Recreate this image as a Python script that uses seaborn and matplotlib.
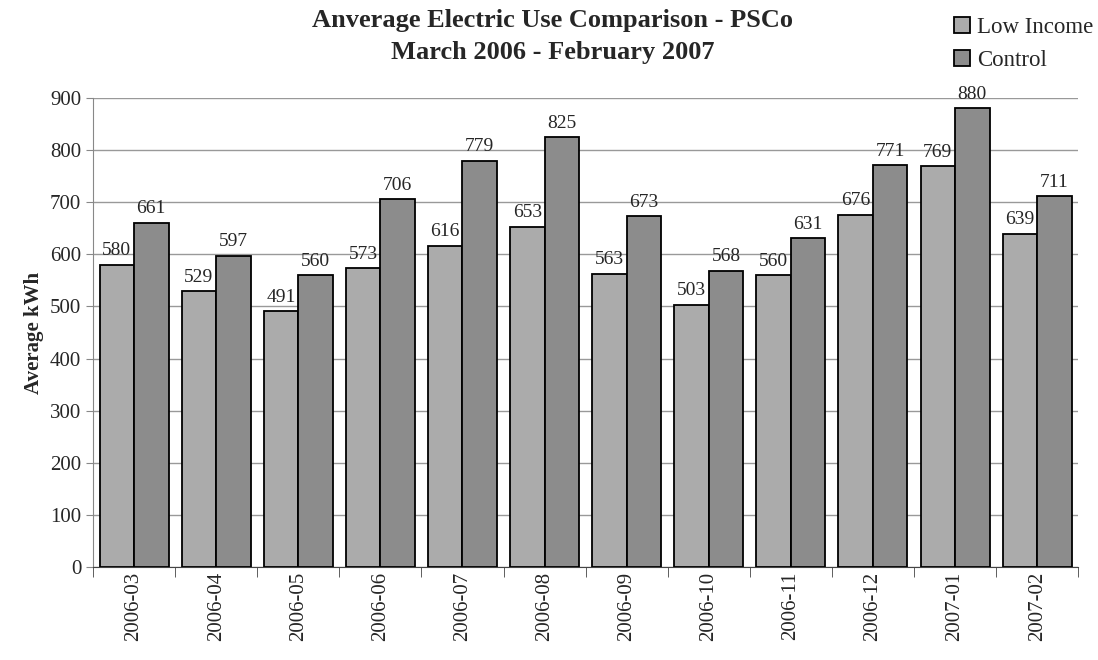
import matplotlib
matplotlib.use("Agg")
import matplotlib.pyplot as plt
import seaborn as sns
import pandas as pd
import numpy as np

months = ["2006-03", "2006-04", "2006-05", "2006-06", "2006-07", "2006-08",
          "2006-09", "2006-10", "2006-11", "2006-12", "2007-01", "2007-02"]
low_income = [580, 529, 491, 573, 616, 653, 563, 503, 560, 676, 769, 639]
control = [661, 597, 560, 706, 779, 825, 673, 568, 631, 771, 880, 711]
series_names = ["Low Income", "Control"]
colors = ["#ababab", "#8c8c8c"]

df = pd.DataFrame({
    "Month": months * 2,
    "kWh": low_income + control,
    "Group": [series_names[0]] * len(months) + [series_names[1]] * len(months),
})

sns.set_style("white")
plt.rcParams["font.family"] = ["Liberation Serif", "DejaVu Serif"]

fig = plt.figure(figsize=(10.98, 6.6), dpi=100)
ax = fig.add_axes([0.0847, 0.141, 0.8973, 0.7105])

sns.barplot(data=df, x="Month", y="kWh", hue="Group", palette=colors,
            width=0.84, edgecolor="black", linewidth=1.3, ax=ax, legend=True,
            zorder=3)

ax.set_ylim(0, 900)
ax.set_xlim(-0.5, len(months) - 0.5)
ax.set_yticks(np.arange(0, 901, 100))
ax.yaxis.grid(True, color="#999999", linewidth=1.0, zorder=0)
ax.set_axisbelow(True)
for s in ["top", "right"]:
    ax.spines[s].set_visible(False)
ax.spines["left"].set_color("#888888")
ax.spines["bottom"].set_color("#444444")
ax.tick_params(axis="y", labelsize=15, length=5, color="#888888", direction="out", left=True)
ax.tick_params(axis="x", labelsize=15, rotation=90, length=0)
ax.set_xticks(np.arange(-0.5, len(months), 1.0), minor=True)
ax.tick_params(axis="x", which="minor", length=7, color="#444444", bottom=True)
ax.set_xlabel("")
ax.set_ylabel("Average kWh", fontsize=15, fontweight="bold")

for cont in ax.containers:
    ax.bar_label(cont, fmt="%d", fontsize=14, padding=4)

fig.suptitle("Anverage Electric Use Comparison - PSCo\nMarch 2006 - February 2007",
             x=0.503, y=0.986, fontsize=19, fontweight="bold", linespacing=1.5)

leg = ax.legend(loc="upper right", bbox_to_anchor=(1.036, 1.216), frameon=False,
                fontsize=16.5, handlelength=0.7, handleheight=0.7, handletextpad=0.3,
                labelspacing=0.5)

fig.savefig("out.png", dpi=100)
